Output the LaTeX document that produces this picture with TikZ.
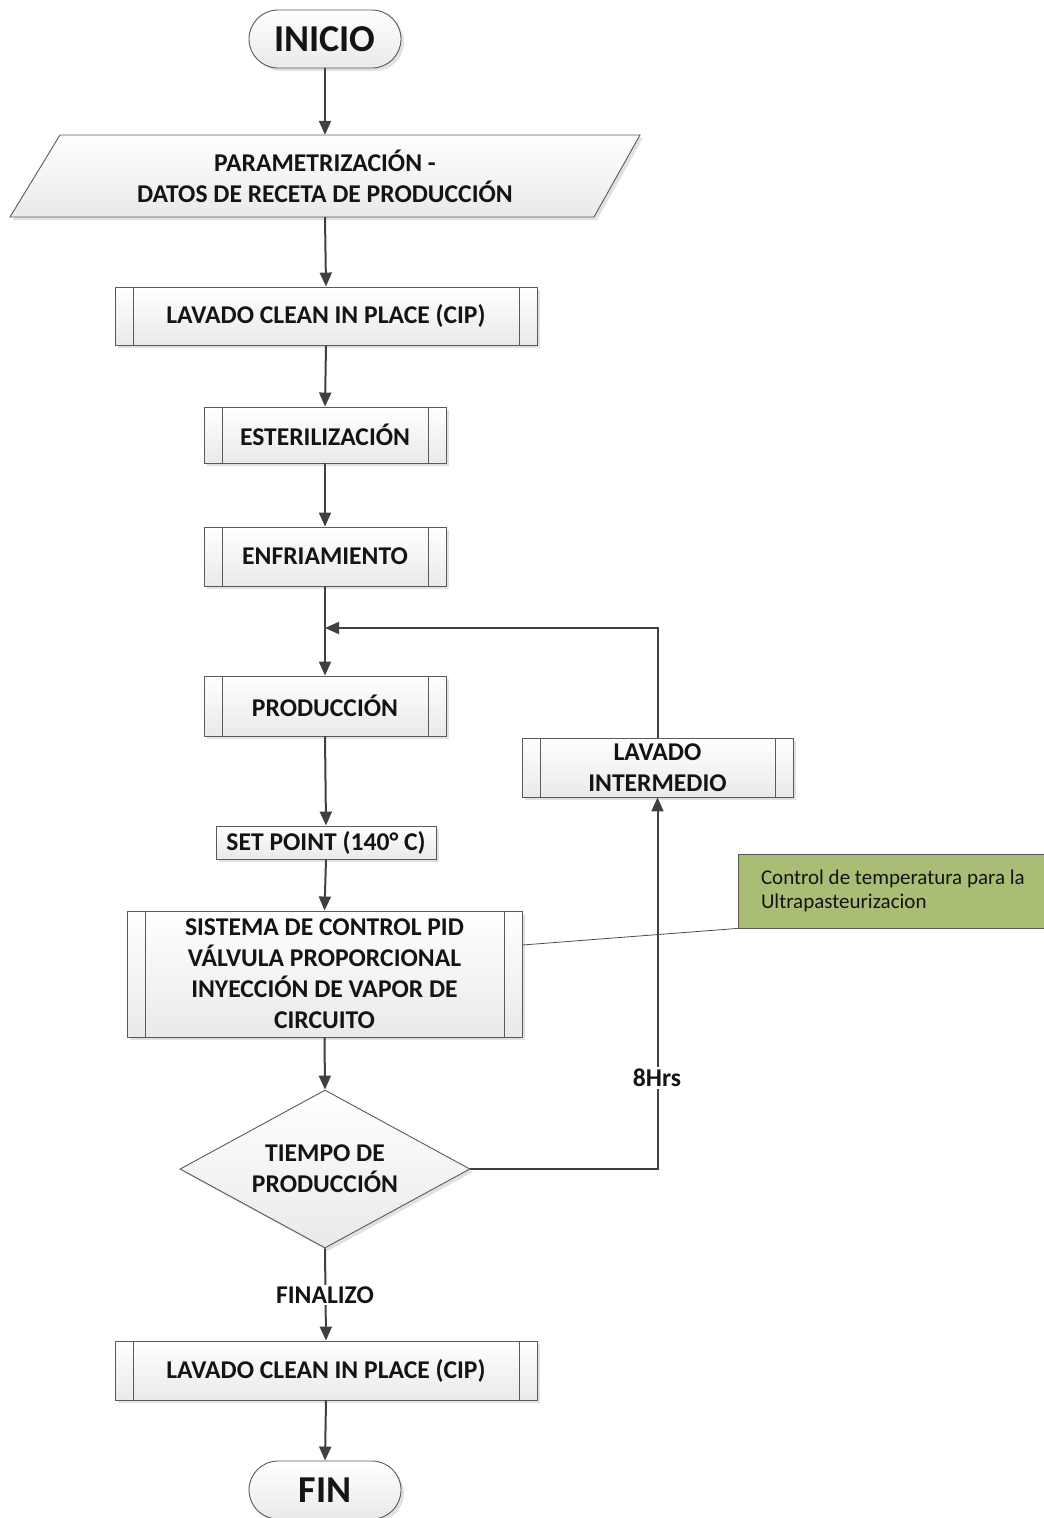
\documentclass[tikz,border=0pt]{standalone}
\usepackage{fontspec}
\setmainfont{Carlito}
\usetikzlibrary{shapes.geometric,shapes.misc,arrows.meta,shadows,calc}

\definecolor{edgec}{RGB}{90,90,90}
\definecolor{linec}{RGB}{64,64,64}
\definecolor{notefill}{RGB}{170,189,117}
\definecolor{txt}{RGB}{20,20,20}

\tikzset{
  shell/.style={draw=edgec, line width=0.9pt, top color=white, bottom color=gray!17,
    drop shadow={shadow xshift=3pt, shadow yshift=-3pt, fill=gray!30, opacity=0.8},
    text=txt, align=center, inner sep=0pt},
  lbl/.style={font=\bfseries\fontsize{25.6}{31}\selectfont},
  plainbox/.style={shell, lbl},
  procbox/.style={shell, lbl,
    path picture={
      \draw[edgec, line width=0.9pt]
        ([xshift=18pt]path picture bounding box.north west) -- ([xshift=18pt]path picture bounding box.south west)
        ([xshift=-18pt]path picture bounding box.north east) -- ([xshift=-18pt]path picture bounding box.south east);
    }},
  term/.style={shell, rounded rectangle, minimum width=152pt, minimum height=58pt,
    font=\bfseries\fontsize{38}{42}\selectfont},
  decision/.style={shell, lbl, diamond, aspect=1.835, minimum width=290pt, minimum height=158pt},
  flow/.style={draw=linec, line width=2pt, -{Triangle[length=14pt,width=12pt]}},
  tag/.style={lbl, text=txt, fill=white, inner sep=2pt},
  notebox/.style={draw=black!65, line width=0.8pt, fill=notefill, text=txt,
    font=\fontsize{21}{24}\selectfont, align=flush left, text width=270pt, inner xsep=23pt,
    minimum height=74pt},
}

\begin{document}
\begin{tikzpicture}[x=1pt,y=-1pt]
\useasboundingbox (0,0) rectangle (1044,1518);

% start
\node[term] (ini) at (325,39) {INICIO};

% input / data step (parallelogram)
\path[shell] (60,135) -- (640,135) -- (594,217) -- (10,217) -- cycle;
\node[lbl, text=txt, align=center, minimum height=82pt, inner sep=0pt] (param) at (325,176)
  {PARAMETRIZACIÓN -\\DATOS DE RECETA DE PRODUCCIÓN};

% process chain
\node[procbox, minimum width=422pt, minimum height=58pt] (cip1) at (326,316) {LAVADO CLEAN IN PLACE (CIP)};
\node[procbox, minimum width=242pt, minimum height=56pt] (ester) at (325,435) {ESTERILIZACIÓN};
\node[procbox, minimum width=242pt, minimum height=59pt] (enfr) at (325,556.5) {ENFRIAMIENTO};
\node[procbox, minimum width=242pt, minimum height=60pt] (prod) at (325,706) {PRODUCCIÓN};
\node[plainbox, minimum width=220pt, minimum height=33pt] (setp) at (326,842.5) {SET POINT (140° C)};
\node[procbox, minimum width=395pt, minimum height=126pt] (pid) at (324.5,974)
  {SISTEMA DE CONTROL PID\\VÁLVULA PROPORCIONAL\\INYECCIÓN DE VAPOR DE\\CIRCUITO};
\node[decision] (tiempo) at (325,1169) {TIEMPO DE\\PRODUCCIÓN};
\node[procbox, minimum width=271pt, minimum height=59pt] (lavint) at (657.5,767.5) {LAVADO\\INTERMEDIO};
\node[procbox, minimum width=422pt, minimum height=59pt] (cip2) at (326,1370.5) {LAVADO CLEAN IN PLACE (CIP)};

% end
\node[term] (fin) at (325,1490) {FIN};

% annotation
\node[notebox] (nota) at (896,891) {Control de temperatura para la\\Ultrapasteurizacion};

% loop junction above production
\coordinate (jn) at (325,628);

% connectors
\draw[flow] (ini.south) -- (param.north);
\draw[flow] (param.south) -- (cip1.north);
\draw[flow] (cip1.south) -- (ester.north);
\draw[flow] (ester.south) -- (enfr.north);
\draw[flow] (enfr.south) -- (prod.north);
\draw[flow] (prod.south) -- (setp.north);
\draw[flow] (setp.south) -- (pid.north);
\draw[flow] (pid.south) -- (tiempo.north);
\draw[flow] (tiempo.east) -| (lavint.south);
\draw[flow] (lavint.north) |- (jn);
\draw[flow] (tiempo.south) -- (cip2.north);
\draw[flow] (cip2.south) -- (fin.north);

% connector labels
\node[tag] (ocho) at (657,1078) {8Hrs};
\node[tag] (finalizo) at (325,1295) {FINALIZO};

% annotation leader
\draw[black!70, line width=0.8pt] ($(pid.east)+(0,-29)$) -- (nota.south west);
\end{tikzpicture}
\end{document}
